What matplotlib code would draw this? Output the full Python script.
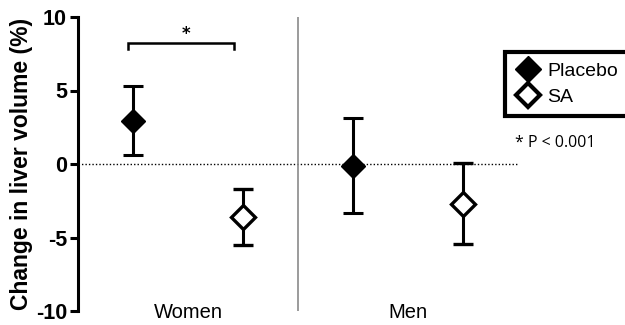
import matplotlib
matplotlib.use("Agg")
import matplotlib.pyplot as plt
from matplotlib.lines import Line2D

groups = ["Women", "Men"]
placebo_mean = [2.9, -0.15]
placebo_upper = [5.3, 3.1]
placebo_lower = [0.6, -3.3]
sa_mean = [-3.6, -2.7]
sa_upper = [-1.7, 0.1]
sa_lower = [-5.5, -5.45]
yticks = [-10, -5, 0, 5, 10]
sig_text = "*"
note_text = "* P < 0.001"

fig = plt.figure(figsize=(6.25, 3.25), dpi=100)
ax = fig.add_axes([78/625, 14/325, (625-78)/625, 294/325])

xp = [1, 3]
xs = [2, 4]
lw = 2.2
ep = dict(fmt="D", color="black", ecolor="black", elinewidth=lw, capsize=7.5,
          capthick=lw, markersize=12, zorder=3)
for i in range(2):
    ax.errorbar(xp[i], placebo_mean[i],
                yerr=[[placebo_mean[i]-placebo_lower[i]], [placebo_upper[i]-placebo_mean[i]]],
                markerfacecolor="black", markeredgecolor="black", **ep)
    ax.errorbar(xs[i], sa_mean[i],
                yerr=[[sa_mean[i]-sa_lower[i]], [sa_upper[i]-sa_mean[i]]],
                markerfacecolor="white", markeredgecolor="black", markeredgewidth=2.4, **ep)

ax.plot([0.5, 4.5], [0, 0], linestyle=(0, (1, 1.5)), color="black", linewidth=1)
ax.plot([2.5, 2.5], [-10, 10], color="#8a8a8a", linewidth=1.2)

# significance bracket
ax.plot([0.95, 0.95, 1.92, 1.92], [7.8, 8.2, 8.2, 7.8], color="black", linewidth=1.8,
        solid_joinstyle="miter")
ax.text(1.48, 8.25, sig_text, ha="center", va="bottom", fontsize=12, fontweight="bold")

ax.set_xlim(0.5, 0.5 + (625-78)/110)
ax.set_ylim(-10, 10)
ax.set_yticks(yticks)
ax.set_yticklabels([str(t) for t in yticks], fontsize=15.5, fontweight="bold",
                   family="Liberation Sans")
ax.set_xticks([])
for s in ["top", "right", "bottom"]:
    ax.spines[s].set_visible(False)
ax.spines["left"].set_linewidth(2.2)
ax.tick_params(axis="y", length=6, width=2.2, pad=2)
ax.set_ylabel("Change in liver volume (%)", fontsize=16.5, fontweight="bold",
              family="Liberation Sans", labelpad=2)

for gx, g in zip([1.5, 3.5], groups):
    fig.text((78 + (gx-0.5)*110)/625, 1 - 312/325, g, ha="center", va="center",
             fontsize=14.5, family="Liberation Sans")

handles = [Line2D([], [], marker="D", linestyle="none", color="black", markersize=13,
                  markerfacecolor="black"),
           Line2D([], [], marker="D", linestyle="none", color="black", markersize=12,
                  markerfacecolor="white", markeredgewidth=3)]
leg = fig.legend(handles, ["Placebo", "SA"], loc="upper left",
                 bbox_to_anchor=(505/625, 1 - 52/325), frameon=True, fancybox=False,
                 framealpha=1,
                 prop=dict(family="Liberation Sans", size=14), handlelength=1.27,
                 handletextpad=0.35, borderpad=0.55, labelspacing=0.4, borderaxespad=0)
leg.get_frame().set_edgecolor("black")
leg.get_frame().set_linewidth(3)

fig.text(515/625, 1 - 143/325, note_text, ha="left", va="center", fontsize=11.5,
         family="Open Sans")

fig.savefig("out.png", dpi=100)
